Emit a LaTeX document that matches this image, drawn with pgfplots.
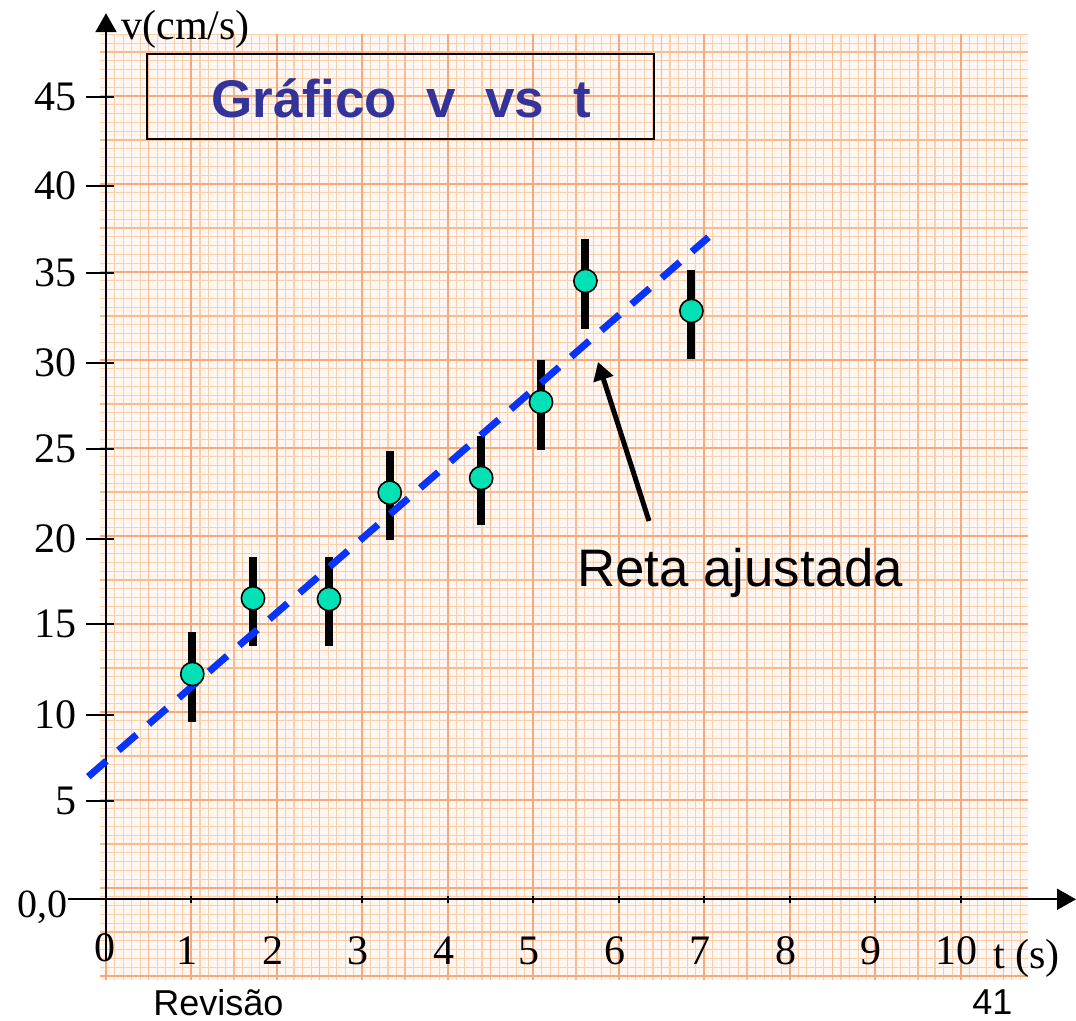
\documentclass[border=0pt]{standalone}
\usepackage{pgfplots}
\pgfplotsset{compat=1.18}
\usepackage{pgfplotstable}
\usepackage{fontspec}
\setmainfont{Liberation Serif}
\newfontfamily\arial{Liberation Sans}
\usetikzlibrary{arrows.meta}

\definecolor{paper}{RGB}{255,246,241}
\definecolor{gthin}{RGB}{250,208,172}
\definecolor{gmed}{RGB}{247,188,146}
\definecolor{gmaj}{RGB}{244,170,122}
\definecolor{dot}{RGB}{0,226,182}
\definecolor{fitblue}{RGB}{8,52,250}
\definecolor{titleblue}{RGB}{51,51,153}

% t, v (circle centre), vb (centre of error bar), e (half length)
\pgfplotstableread{
t    v     vb    e
1.01 12.62 12.45 2.5
1.72 16.86 16.69 2.5
2.61 16.82 16.69 2.5
3.32 22.78 22.61 2.5
4.39 23.60 23.46 2.5
5.09 27.86 27.69 2.5
5.61 34.64 34.47 2.5
6.85 32.96 32.77 2.5
}\pts

\begin{document}
\begin{tikzpicture}
% graph paper (pixel frame of the reference)
\begin{scope}[shift={(-34pt,480pt)}, x=0.5pt, y=-0.5pt]
  \fill[paper] (100,34) rectangle (1028,980);
  \begin{scope}[shift={(106,96)}, x=0.5pt, y=0.5pt]
    \draw[gthin, line width=0.55pt, step={(8.546,8.8)}] (-6,-884) grid (922,62);
    \draw[gmed, line width=0.75pt, step={(42.73,44)}] (-6,-884) grid (922,62);
    \draw[gmaj, line width=1pt, step={(85.46,88)}] (-6,-884) grid (922,62);
  \end{scope}
\end{scope}

\begin{axis}[
  at={(0,0)}, anchor=south west,
  x=42.73pt, y=8.925pt,
  xmin=-0.44465, xmax=11.3503, ymin=-3.4006, ymax=49.64,
  enlargelimits=false, clip=false,
  axis lines=middle,
  axis line style={line width=1pt, -{Triangle[length=9.5pt,width=10.5pt]}},
  xtick={1,2,3,4,5,6,7,8,9,10},
  xticklabels={1,2,3,4,5,6,7,8,9,10},
  ytick={5.51,10.34,15.41,20.21,25.24,30.06,35.10,39.98,44.94},
  yticklabels={5,10,15,20,25,30,35,40,45},
  tick align=center,
  tick style={black, line width=1pt},
  xtick style={/pgfplots/major tick length=3.5pt},
  ytick style={/pgfplots/major tick length=14pt, xshift=-3pt},
  tick label style={font=\fontsize{21}{21}\selectfont},
  xticklabel style={anchor=base, yshift=-30.3pt, xshift=-2pt},
  yticklabel style={anchor=east, inner sep=0pt, xshift=-12.5pt},
]
\addplot[only marks, mark=none,
  error bars/.cd, y dir=both, y explicit, error mark=none,
  error bar style={draw=black, line width=4pt}]
  table[x=t, y=vb, y error=e]{\pts};
\addplot[only marks, mark=*, mark size=5.8pt,
  mark options={fill=dot, draw=black, line width=0.8pt}]
  table[x=t, y=v]{\pts};
\addplot[fitblue, line width=3.5pt, dash pattern=on 12pt off 8pt]
  coordinates {(-0.207,6.87) (7.05,37.09)};
\end{axis}

% overlays (pixel frame)
\begin{scope}[shift={(-34pt,480pt)}, x=0.5pt, y=-0.5pt]
  \draw[line width=1pt] (147,54) rectangle (654,139);
  \node[anchor=base, inner sep=0pt, text=titleblue,
        font=\arial\bfseries\fontsize{26.5}{26.5}\selectfont]
        at (401.5,118) {Gráfico\ \ v\ \ vs\ \ t};
  \node[anchor=base west, inner sep=0pt, font=\arial\fontsize{26.4}{26.4}\selectfont]
        at (577,587) {Reta ajustada};
  \draw[line width=2.5pt, -{Triangle[length=9pt,width=10pt]}] (649,521) -- (598,362);
  \node[anchor=base west, inner sep=0pt, font=\fontsize{21}{21}\selectfont]
        at (121,39.5) {v(cm/s)};
  \node[anchor=base west, inner sep=0pt, font=\fontsize{21}{21}\selectfont]
        at (993,969) {t (s)};
  \node[anchor=base east, inner sep=0pt, font=\fontsize{20}{20}\selectfont]
        at (68,918) {0,0};
  \node[anchor=base, inner sep=0pt, font=\fontsize{21}{21}\selectfont]
        at (105,962) {0};
  \node[anchor=base west, inner sep=0pt, font=\arial\fontsize{18}{18}\selectfont]
        at (153,1015.5) {Revisão};
  \node[anchor=base west, inner sep=0pt, font=\arial\fontsize{18}{18}\selectfont]
        at (972,1015) {41};
\end{scope}

\pgfresetboundingbox
\path[use as bounding box] (-34pt,480pt) rectangle ++(538pt,-510.5pt);
\end{tikzpicture}
\end{document}
